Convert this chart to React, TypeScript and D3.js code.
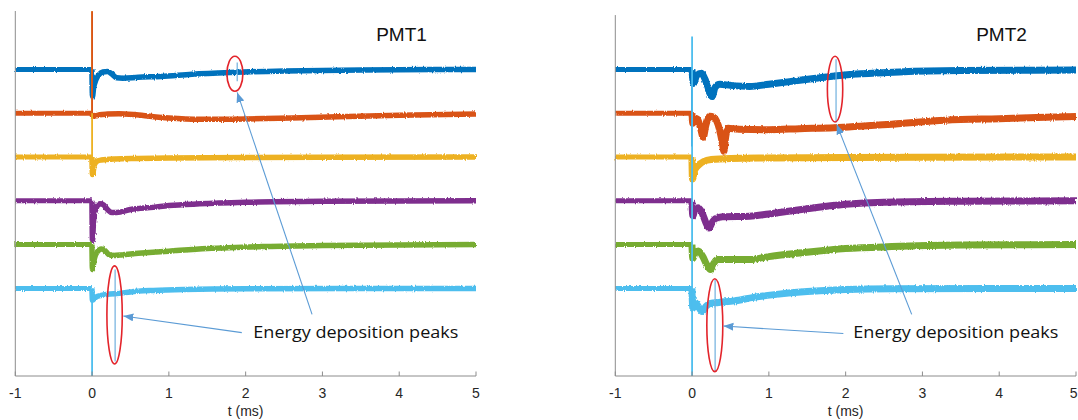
import React from 'react';
import * as d3 from 'd3';

type Pt = [number, number];

// ---------- data ----------
const TIME_DOMAIN: [number, number] = [-1, 5];
const TIME_TICKS = [-1, 0, 1, 2, 3, 4, 5];
const X_LABEL = 't (ms)';
const PANEL_TITLES = ['PMT1', 'PMT2'];
const TRACE_OFFSETS = [5, 4, 3, 2, 1, 0];
const ANNOTATION_TEXT = 'Energy deposition peaks';

// PMT1 traces: [t (ms), signal relative to the trace baseline (a.u.)]
const PMT1_CH1: Pt[] = [[-1, 0], [-0.002, 0], [0.005, -0.62], [0.02, -0.42], [0.05, -0.24], [0.09, -0.12], [0.14, -0.06], [0.2, -0.05], [0.26, -0.11], [0.32, -0.19], [0.4, -0.2], [0.6, -0.18], [0.9, -0.16], [1.3, -0.11], [1.8, -0.07], [2.5, -0.035], [3.5, -0.012], [5, 0]];
const PMT1_CH2: Pt[] = [[-1, 0], [-0.002, 0], [0.005, -0.07], [0.05, -0.06], [0.1, -0.035], [0.2, -0.02], [0.35, -0.01], [0.55, -0.03], [0.8, -0.08], [1.0, -0.11], [1.4, -0.14], [2.0, -0.13], [2.6, -0.11], [3.2, -0.08], [4.0, -0.045], [5, -0.02]];
const PMT1_CH3: Pt[] = [[-1, 0], [-0.002, 0], [0.005, -0.4], [0.03, -0.18], [0.07, -0.09], [0.12, -0.07], [0.3, -0.046], [0.6, -0.034], [1.0, -0.023], [2.0, -0.01], [5, 0]];
const PMT1_CH4: Pt[] = [[-1, 0], [-0.002, 0], [0.005, -0.9], [0.02, -0.45], [0.05, -0.18], [0.1, -0.07], [0.14, -0.08], [0.2, -0.2], [0.26, -0.27], [0.32, -0.27], [0.5, -0.2], [0.8, -0.15], [1.0, -0.11], [1.4, -0.07], [2.0, -0.035], [3.0, -0.012], [5, 0]];
const PMT1_CH5: Pt[] = [[-1, 0], [-0.002, 0], [0.005, -0.57], [0.03, -0.32], [0.07, -0.16], [0.12, -0.1], [0.17, -0.14], [0.22, -0.23], [0.28, -0.25], [0.4, -0.23], [0.6, -0.2], [1.0, -0.15], [1.5, -0.09], [2.2, -0.046], [3, -0.023], [5, 0]];
const PMT1_CH6: Pt[] = [[-1, 0], [-0.002, 0], [0.005, -0.27], [0.05, -0.2], [0.12, -0.16], [0.2, -0.137], [0.35, -0.114], [0.5, -0.08], [0.8, -0.046], [1.2, -0.023], [2, -0.007], [5, 0]];

// PMT2 traces
const PMT2_CH1: Pt[] = [[-1, 0], [-0.002, 0], [0.02, -0.32], [0.06, -0.14], [0.12, -0.09], [0.17, -0.23], [0.22, -0.5], [0.26, -0.62], [0.3, -0.41], [0.36, -0.34], [0.5, -0.365], [0.75, -0.39], [1.0, -0.34], [1.4, -0.25], [1.8, -0.16], [2.2, -0.1], [2.7, -0.057], [3.5, -0.027], [5, -0.016]];
const PMT2_CH2: Pt[] = [[-1, 0], [-0.002, 0], [0.01, -0.23], [0.04, -0.114], [0.07, -0.137], [0.11, -0.34], [0.145, -0.55], [0.18, -0.27], [0.23, -0.07], [0.28, -0.09], [0.34, -0.27], [0.39, -0.64], [0.415, -0.87], [0.435, -0.57], [0.47, -0.342], [0.6, -0.365], [1.0, -0.377], [1.4, -0.354], [1.85, -0.33], [2.6, -0.25], [3.3, -0.16], [4.0, -0.125], [5, -0.075]];
const PMT2_CH3: Pt[] = [[-1, 0], [-0.002, 0], [0.005, -0.5], [0.03, -0.32], [0.06, -0.228], [0.1, -0.16], [0.15, -0.103], [0.25, -0.057], [0.5, -0.034], [1, -0.023], [2, -0.011], [5, 0]];
const PMT2_CH4: Pt[] = [[-1, 0], [-0.002, 0], [0.01, -0.342], [0.04, -0.183], [0.08, -0.16], [0.13, -0.274], [0.18, -0.5], [0.22, -0.62], [0.26, -0.5], [0.3, -0.41], [0.4, -0.365], [0.75, -0.354], [1.0, -0.3], [1.4, -0.205], [2.0, -0.08], [2.5, -0.034], [3.5, -0.011], [5, 0]];
const PMT2_CH5: Pt[] = [[-1, 0], [-0.002, 0], [0.01, -0.32], [0.04, -0.183], [0.08, -0.148], [0.14, -0.274], [0.19, -0.457], [0.24, -0.57], [0.28, -0.434], [0.33, -0.342], [0.5, -0.342], [0.75, -0.342], [1.0, -0.274], [1.4, -0.194], [2.0, -0.091], [2.6, -0.046], [3.5, -0.011], [5, 0]];
const PMT2_CH6: Pt[] = [[-1, 0], [-0.002, 0], [0.01, -0.457], [0.04, -0.32], [0.08, -0.41], [0.13, -0.525], [0.18, -0.41], [0.24, -0.342], [0.35, -0.32], [0.55, -0.285], [0.8, -0.205], [1.1, -0.137], [1.5, -0.073], [2.0, -0.027], [2.6, -0.007], [5, 0]];

// trigger transients at t = 0: [channel index, t, low, high] relative to baseline
const PMT1_TRANSIENTS: [number, number, number, number][] = [[2, 0, 0, 3.33], [1, 0, 0, 2.33], [5, 0, -2, 0]];
const PMT2_TRANSIENTS: [number, number, number, number][] = [[0, 0, -1.76, 0], [5, 0, -2, 5.75]];

// energy deposition peaks: [channel index, t, low, high] relative to baseline
const PMT1_PEAKS: [number, number, number, number][] = [[0, 1.89, -0.27, 0.16], [5, 0.3, -1.67, 0.43]];
const PMT2_PEAKS: [number, number, number, number][] = [[0, 1.875, -1.21, 0.23], [5, 0.3, -1.9, 0.2]];

// ellipses: [t, value, half-width (ms), half-height (a.u.)]
const PMT1_ELLIPSES: [number, number, number, number][] = [[1.86, 4.9, 0.104, 0.4], [0.293, -0.605, 0.1, 1.12]];
const PMT2_ELLIPSES: [number, number, number, number][] = [[1.862, 4.55, 0.1, 0.75], [0.296, -0.84, 0.104, 1.06]];

// arrows: [t from, v from, t to, v to]
const PMT1_ARROWS: [number, number, number, number][] = [[1.95, -1.01, 0.407, -0.63], [2.865, -0.594, 1.89, 4.475]];
const PMT2_ARROWS: [number, number, number, number][] = [[1.97, -1.03, 0.408, -0.86], [2.86, -0.594, 1.884, 3.744]];

const ANNOTATION_POS: Pt = [2.1, -1.14];
const TITLE_POS: Pt = [3.7, 5.64];
const Y_DOMAIN: [number, number] = [-2, 6.333];
const Y_AXIS_TOP = [6.333, 6.24];

// ---------- styles ----------
const COLORS = ['#0072BD', '#D95319', '#EDB120', '#7E2F8E', '#77AC30', '#4DBEEE'];
const AXIS_COLOR = '#8c8c8c';
const TEXT_COLOR = '#262626';
const ARROW_COLOR = '#5B9BD5';
const ELLIPSE_COLOR = '#E3242B';

const PANELS = [
  { x0: 15.3, x1: 476, traces: [PMT1_CH1, PMT1_CH2, PMT1_CH3, PMT1_CH4, PMT1_CH5, PMT1_CH6], transients: PMT1_TRANSIENTS, peaks: PMT1_PEAKS, ellipses: PMT1_ELLIPSES, arrows: PMT1_ARROWS, preW: 5, postW: 5.5 },
  { x0: 615.3, x1: 1076, traces: [PMT2_CH1, PMT2_CH2, PMT2_CH3, PMT2_CH4, PMT2_CH5, PMT2_CH6], transients: PMT2_TRANSIENTS, peaks: PMT2_PEAKS, ellipses: PMT2_ELLIPSES, arrows: PMT2_ARROWS, preW: 5, postW: 7 },
];

const W = 1078;
const H = 420;
const Y_BOTTOM = 376;
const Y_TOP_PX = 11;
const FONT = "'Liberation Sans', Arial, sans-serif";

function Panel({ idx }: { idx: number }) {
  const p = PANELS[idx];
  const x = d3.scaleLinear().domain(TIME_DOMAIN).range([p.x0, p.x1]);
  const y = d3.scaleLinear().domain(Y_DOMAIN).range([Y_BOTTOM, Y_TOP_PX]);

  return (
    <g>
      {/* traces */}
      {p.traces.map((tr, i) => {
        const off = TRACE_OFFSETS[i];
        const line = d3
          .line<Pt>()
          .x((d) => x(d[0]))
          .y((d) => y(d[1] + off))
          .curve(d3.curveMonotoneX);
        const pre = tr.filter((d) => d[0] <= -0.002);
        const post = tr.filter((d) => d[0] >= -0.002);
        return (
          <g key={i} filter="url(#grain)">
            <path d={line(pre) || ''} fill="none" stroke={COLORS[i]} strokeWidth={p.preW} />
            <path d={line(post) || ''} fill="none" stroke={COLORS[i]} strokeWidth={p.postW} strokeLinejoin="round" />
          </g>
        );
      })}
      {/* trigger transients */}
      {p.transients.map(([ch, t, lo, hi], i) => (
        <line key={'tr' + i} x1={x(t)} x2={x(t)} y1={y(lo + TRACE_OFFSETS[ch])} y2={y(hi + TRACE_OFFSETS[ch])} stroke={COLORS[ch]} strokeWidth={1.8} />
      ))}
      {/* energy deposition peaks */}
      {p.peaks.map(([ch, t, lo, hi], i) => (
        <line key={'pk' + i} x1={x(t)} x2={x(t)} y1={y(lo + TRACE_OFFSETS[ch])} y2={y(hi + TRACE_OFFSETS[ch])} stroke="#6FB0DE" strokeWidth={1.2} />
      ))}
      {/* axes */}
      <line x1={p.x0} x2={p.x0} y1={y(Y_AXIS_TOP[idx])} y2={Y_BOTTOM} stroke={AXIS_COLOR} strokeWidth={1} />
      <line x1={p.x0} x2={p.x1} y1={Y_BOTTOM} y2={Y_BOTTOM} stroke={AXIS_COLOR} strokeWidth={1} />
      {TIME_TICKS.map((t) => {
        const tx = x(t);
        const atEdge = tx + 5 > W;
        return (
          <g key={'tk' + t}>
            <line x1={tx} x2={tx} y1={Y_BOTTOM} y2={Y_BOTTOM - 4.5} stroke={AXIS_COLOR} strokeWidth={1} />
            <text x={atEdge ? W - 0.5 : tx} y={398} textAnchor={atEdge ? 'end' : 'middle'} fontFamily={FONT} fontSize={14} fill={TEXT_COLOR}>
              {t}
            </text>
          </g>
        );
      })}
      <text x={x((TIME_DOMAIN[0] + TIME_DOMAIN[1]) / 2)} y={416} textAnchor="middle" fontFamily={FONT} fontSize={14} fill={TEXT_COLOR}>
        {X_LABEL}
      </text>
      {/* title */}
      <text x={x(TITLE_POS[0])} y={y(TITLE_POS[1])} fontFamily={FONT} fontSize={19} fill="#111">
        {PANEL_TITLES[idx]}
      </text>
      {/* ellipses */}
      {p.ellipses.map(([t, v, dt, dv], i) => (
        <ellipse key={'el' + i} cx={x(t)} cy={y(v)} rx={x(t + dt) - x(t)} ry={y(v - dv) - y(v)} fill="none" stroke={ELLIPSE_COLOR} strokeWidth={1.6} />
      ))}
      {/* arrows */}
      {p.arrows.map(([t0, v0, t1, v1], i) => (
        <line key={'ar' + i} x1={x(t0)} y1={y(v0)} x2={x(t1)} y2={y(v1)} stroke={ARROW_COLOR} strokeWidth={1.1} markerEnd="url(#arrowhead)" />
      ))}
      <text x={x(ANNOTATION_POS[0])} y={y(ANNOTATION_POS[1])} fontFamily="'Open Sans', 'Noto Sans', sans-serif" fontSize={16} fill="#111" textLength={205} lengthAdjust="spacingAndGlyphs">
        {ANNOTATION_TEXT}
      </text>
    </g>
  );
}

export default function App() {
  return (
    <svg width={W} height={H} style={{ position: 'absolute', left: 0, top: 0, background: '#fff' }}>
      <defs>
        <filter id="grain" filterUnits="userSpaceOnUse" x={0} y={0} width={W} height={H}>
          <feTurbulence type="fractalNoise" baseFrequency="0.9 0.25" numOctaves={1} seed={7} result="n" />
          <feDisplacementMap in="SourceGraphic" in2="n" scale={3} xChannelSelector="R" yChannelSelector="G" />
        </filter>
        <marker id="arrowhead" markerUnits="userSpaceOnUse" markerWidth={12} markerHeight={10} refX={10} refY={4} orient="auto">
          <path d="M0,0 L10,4 L0,8 Z" fill={ARROW_COLOR} />
        </marker>
      </defs>
      <rect x={0} y={0} width={W} height={H} fill="#fff" />
      <Panel idx={0} />
      <Panel idx={1} />
    </svg>
  );
}
